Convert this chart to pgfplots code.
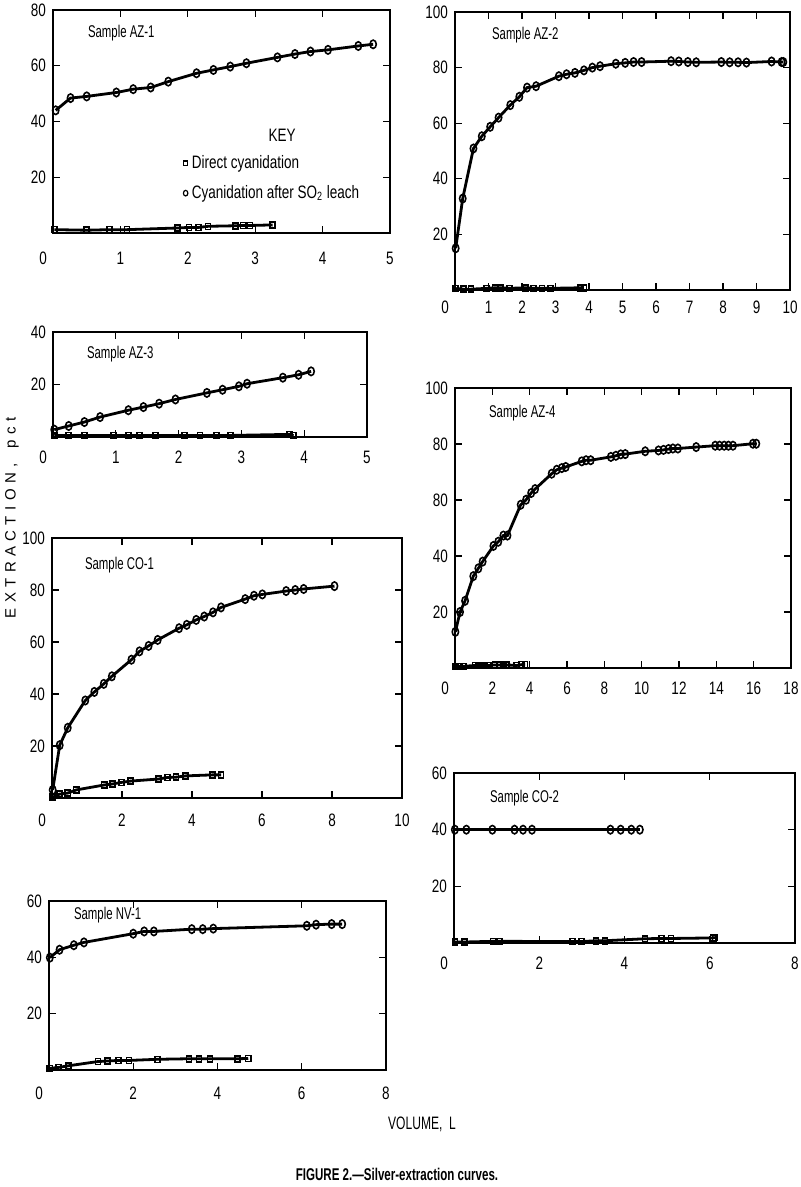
\documentclass[border=0pt]{standalone}
\usepackage{fontspec}
\setmainfont{Liberation Sans}
\newfontfamily\cond{Liberation Sans}[FakeStretch=0.75]
\newfontfamily\condt{Liberation Sans}[FakeStretch=0.67]
\newfontfamily\capt{Liberation Sans}[FakeStretch=0.68]
\usepackage{pgfplots}
\pgfplotsset{compat=1.18}

\pgfplotsset{
  panel/.style={
    scale only axis, anchor=south west, clip=false,
    axis line style={line width=0.6pt},
    tick align=inside, major tick length=3.5pt,
    every tick/.style={black, line width=0.6pt},
    tick label style={font=\cond\fontsize{9}{10}\selectfont},
    /pgf/number format/assume math mode=true,
  },
  circ/.style={black, line width=1.4pt, mark=o, mark size=2.1pt,
    mark options={xscale=0.75, fill=white, line width=0.8pt, solid}},
  sq/.style={black, line width=1.4pt, mark=square, mark size=1.5pt,
    mark options={xscale=0.85, fill=white, line width=0.8pt, solid}},
}
\newcommand\zl{\makebox[0pt][r]{0\kern3pt}}
\newcommand\samp[3]{\node[anchor=west, font=\condt\fontsize{8.5}{10}\selectfont]
  at ([xshift=#1, yshift=#2]rel axis cs:0,1) {#3};}
\newcommand\gap{\kern2.7pt}

\begin{document}
\begin{tikzpicture}
\useasboundingbox (0,0) rectangle (400pt,-593.5pt);

% AZ-1
\begin{axis}[panel, at={(26.5pt,-116.5pt)}, width=168.5pt, height=111.5pt,
  xmin=0, xmax=5, ymin=0, ymax=80,
  xtick={0,1,2,3,4,5}, xticklabels={\zl,1,2,3,4,5},
  ytick={20,40,60,80},
  xticklabel style={yshift=-6pt},
  legend style={draw=none, fill=none, at={(rel axis cs:0.368,0.387)}, anchor=north west,
    font=\cond\fontsize{9}{10}\selectfont, row sep=3pt, cells={anchor=west}},
  legend image code/.code={\draw[#1] plot coordinates {(0pt,0pt)};}]
\addplot[circ, forget plot] coordinates {(0.04,44) (0.26,48.4) (0.50,49.0) (0.94,50.4) (1.19,51.6) (1.45,52.2) (1.71,54.3) (2.13,57.3) (2.38,58.5) (2.63,59.7) (2.87,60.9) (3.33,63.0) (3.59,64.2) (3.82,65.1) (4.08,65.7) (4.53,67.1) (4.75,67.7)};
\addplot[sq, forget plot] coordinates {(0.02,1.2) (0.50,1.0) (0.84,1.2) (1.10,1.2) (1.85,1.8) (2.02,2.0) (2.16,2.0) (2.30,2.4) (2.71,2.6) (2.82,2.7) (2.92,2.7) (3.26,2.9)};
\addlegendimage{black, mark=square, mark size=1.1pt, mark options={line width=0.6pt}}
\addlegendentry{Direct cyanidation}
\addlegendimage{black, mark=o, mark size=1.4pt, mark options={xscale=0.8, line width=0.6pt}}
\addlegendentry{Cyanidation after SO\textsubscript{2} leach}
\node[font=\cond\fontsize{9}{10}\selectfont] at (rel axis cs:0.68,0.44) {KEY};
\samp{14pt}{-11.5pt}{Sample AZ-1}
\end{axis}

% AZ-2
\begin{axis}[panel, at={(227.5pt,-145pt)}, width=167.5pt, height=139pt,
  xmin=0, xmax=10, ymin=0, ymax=100,
  xtick={0,...,10}, xticklabels={\zl,1,2,3,4,5,6,7,8,9,10},
  ytick={20,40,60,80,100},
  xticklabel style={yshift=-2pt}]
\addplot[circ] coordinates {(0.02,15.0) (0.23,32.9) (0.55,50.9) (0.80,55.3) (1.05,58.7) (1.30,62.0) (1.65,66.5) (1.92,69.5) (2.15,72.8) (2.42,73.3) (3.10,76.9) (3.33,77.6) (3.58,78.1) (3.85,79.0) (4.10,80.0) (4.33,80.5) (4.80,81.4) (5.08,81.7) (5.33,82.0) (5.57,82.0) (6.45,82.3) (6.68,82.2) (6.95,82.0) (7.20,81.9) (7.95,82.0) (8.20,81.9) (8.45,81.9) (8.70,81.8) (9.45,82.2) (9.75,82.0) (9.80,82.0)};
\addplot[sq] coordinates {(0.02,0.5) (0.25,0.3) (0.48,0.3) (0.95,0.6) (1.20,0.8) (1.35,0.8) (1.63,0.6) (2.10,0.8) (2.35,0.6) (2.60,0.6) (2.85,0.6) (3.75,0.8) (3.85,0.8)};
\samp{15pt}{-11.5pt}{Sample AZ-2}
\end{axis}

% AZ-3
\begin{axis}[panel, at={(26.5pt,-218.5pt)}, width=157pt, height=52.5pt,
  xmin=0, xmax=5, ymin=0, ymax=40,
  xtick={0,1,2,3,4,5}, xticklabels={\zl,1,2,3,4,5},
  ytick={20,40},
  xticklabel style={yshift=-3.5pt}]
\addplot[circ] coordinates {(0.02,2.8) (0.25,4.2) (0.50,5.7) (0.75,7.6) (1.20,10.2) (1.44,11.4) (1.69,12.7) (1.95,14.3) (2.45,16.8) (2.70,18.0) (2.96,19.3) (3.09,20.3) (3.66,22.6) (3.91,23.7) (4.11,25.0)};
\addplot[sq] coordinates {(0.02,0.6) (0.25,0.6) (0.50,0.6) (0.96,0.6) (1.20,0.6) (1.38,0.6) (1.63,0.6) (2.09,0.6) (2.34,0.6) (2.60,0.6) (2.83,0.6) (3.77,1.0) (3.83,0.5)};
\samp{13.5pt}{-11pt}{Sample AZ-3}
\end{axis}

% AZ-4
\begin{axis}[panel, at={(227.5pt,-334pt)}, width=168pt, height=140pt,
  xmin=0, xmax=18, ymin=0, ymax=100,
  xtick={0,2,...,18}, xticklabels={\zl,2,4,6,8,10,12,14,16,18},
  ytick={20,40,60,80,100}, yticklabels={20,40,80,80,100},
  xticklabel style={yshift=-3.5pt}]
\addplot[circ] coordinates {(0.02,12.9) (0.27,20.0) (0.54,24.0) (0.98,32.8) (1.25,35.6) (1.48,38.0) (2.06,43.6) (2.32,45.1) (2.59,47.3) (2.81,47.3) (3.52,58.3) (3.81,60.1) (4.08,62.5) (4.29,63.9) (5.18,69.4) (5.45,70.8) (5.72,71.4) (5.93,71.8) (6.79,73.8) (7.02,74.2) (7.27,74.2) (8.35,75.4) (8.62,75.8) (8.88,76.3) (9.12,76.4) (10.19,77.4) (10.90,77.7) (11.17,77.9) (11.44,78.2) (11.67,78.4) (11.94,78.4) (12.92,78.9) (13.94,79.4) (14.17,79.4) (14.42,79.4) (14.65,79.4) (14.89,79.4) (15.96,80.1) (16.14,80.1)};
\addplot[sq] coordinates {(0.04,0.6) (0.23,0.6) (0.45,0.6) (1.07,0.9) (1.25,0.9) (1.43,0.9) (1.61,0.9) (1.79,0.9) (2.14,1.1) (2.37,1.1) (2.59,1.1) (2.77,1.1) (3.31,0.9) (3.57,1.2) (3.75,1.2)};
\samp{13.5pt}{-12.5pt}{Sample AZ-4}
\end{axis}

% CO-1
\begin{axis}[panel, at={(26pt,-399pt)}, width=175pt, height=130pt,
  xmin=0, xmax=10, ymin=0, ymax=100,
  xtick={0,2,...,10}, xticklabels={\zl,2,4,6,8,10},
  ytick={20,40,60,80,100},
  xticklabel style={yshift=-4.5pt}]
\addplot[circ] coordinates {(0.02,3.1) (0.22,20.3) (0.45,27.0) (0.95,37.5) (1.21,40.8) (1.48,43.9) (1.71,46.8) (2.27,53.2) (2.50,56.4) (2.76,58.5) (3.02,60.8) (3.63,65.3) (3.85,66.6) (4.12,68.5) (4.35,69.8) (4.60,71.4) (4.83,73.3) (5.52,76.5) (5.77,77.8) (6.01,78.3) (6.69,79.6) (6.95,80.0) (7.19,80.4) (8.07,81.5)};
\addplot[sq] coordinates {(0.02,0.3) (0.22,1.5) (0.45,1.9) (0.69,3.1) (1.49,5.0) (1.73,5.4) (1.98,6.0) (2.24,6.5) (3.04,7.3) (3.30,7.9) (3.54,8.0) (3.81,8.5) (4.59,8.9) (4.83,8.9)};
\samp{13pt}{-13.5pt}{Sample CO-1}
\end{axis}

% CO-2
\begin{axis}[panel, at={(227pt,-471.5pt)}, width=170.5pt, height=85pt,
  xmin=0, xmax=8, ymin=0, ymax=60,
  xtick={0,2,...,8}, xticklabels={\zl,2,4,6,8},
  ytick={20,40,60},
  xticklabel style={yshift=-3.5pt}]
\addplot[circ] coordinates {(0.02,40) (0.29,40) (0.90,40) (1.42,40) (1.62,40) (1.83,40) (3.67,40) (3.91,40) (4.16,40) (4.36,40)};
\addplot[sq] coordinates {(0.02,0.35) (0.25,0.35) (0.92,0.6) (1.07,0.6) (2.78,0.5) (2.99,0.5) (3.33,0.8) (3.54,0.8) (4.48,1.5) (4.87,1.6) (5.09,1.6) (6.08,1.8) (6.12,2.0)};
\samp{14.5pt}{-12.5pt}{Sample CO-2}
\end{axis}

% NV-1
\begin{axis}[panel, at={(24.5pt,-535pt)}, width=168.5pt, height=84.5pt,
  xmin=0, xmax=8, ymin=0, ymax=60,
  xtick={0,2,...,8}, xticklabels={\zl,2,4,6,8},
  ytick={20,40,60},
  xticklabel style={yshift=-5pt}]
\addplot[circ] coordinates {(0.02,39.9) (0.25,42.7) (0.59,44.3) (0.83,45.3) (2.00,48.4) (2.26,49.2) (2.49,49.2) (3.39,50.0) (3.65,50.0) (3.90,50.2) (6.12,51.2) (6.34,51.6) (6.71,51.8) (6.96,51.8)};
\addplot[sq] coordinates {(0.02,0.6) (0.22,0.9) (0.46,1.5) (1.16,3.0) (1.39,3.2) (1.65,3.4) (1.90,3.4) (2.57,3.8) (3.32,4.0) (3.56,4.0) (3.82,4.0) (4.48,4.0) (4.73,4.1)};
\samp{9pt}{-7pt}{Sample NV-1}
\end{axis}

\node[rotate=90, font=\fontsize{7.5}{8}\selectfont] at (6pt,-259pt)
  {E\gap X\gap T\gap R\gap A\gap C\gap T\gap I\gap O\gap N\gap ,\gap\ \gap p\gap c\gap t};
\node[font=\condt\fontsize{9}{10}\selectfont] at (211pt,-562pt) {VOLUME,\ \ L};
\node[font=\capt\bfseries\fontsize{8.5}{10}\selectfont] at (198.5pt,-587pt) {FIGURE 2.—Silver-extraction curves.};
\end{tikzpicture}
\end{document}
